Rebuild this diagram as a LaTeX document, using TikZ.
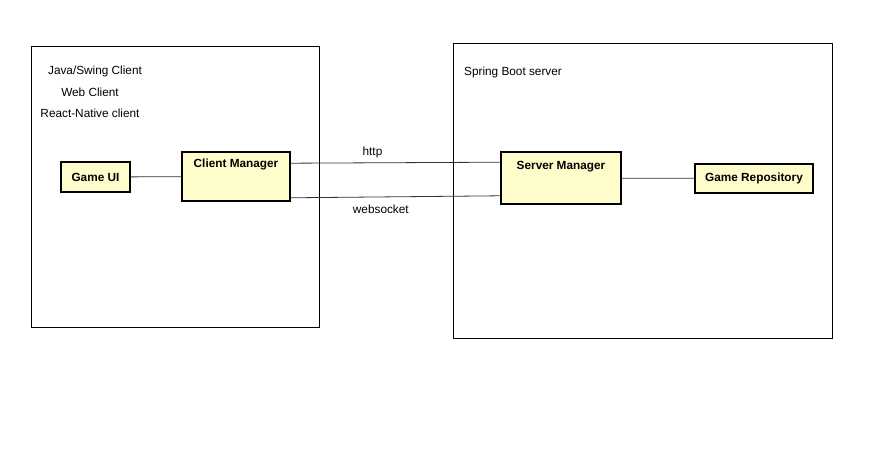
\documentclass[tikz,border=0pt]{standalone}
\usepackage{fontspec}
\setmainfont{Liberation Sans}
\usepackage{tikz}

\begin{document}
\begin{tikzpicture}[x=1pt, y=-1pt,
        font=\fontsize{11.8}{14}\selectfont,
        comp/.style={draw, line width=1.6pt, fill=yellow!20, inner sep=0pt, font=\fontsize{11.8}{14}\selectfont\bfseries},
        link/.style={black!80, line width=0.8pt}]
        \useasboundingbox (0, 0) rectangle (886, 449);
        % client and server frames
        \draw[line width=0.8pt] (31, 46) rectangle (319, 327);
        \draw[line width=0.8pt] (453, 43) rectangle (832, 338);
        \node (java) at (95, 71.5) {Java/Swing Client};
        \node (web) at (90, 92.5) {Web Client};
        \node (react) at (90, 113.5) {React-Native client};
        \node (spring) at (513, 72.5) {Spring Boot server};
        % components
        \node[comp, minimum width=69pt, minimum height=30pt] (gui) at (95.5, 177) {Game UI};
        \node[comp, minimum width=108pt, minimum height=49pt,
            label={[anchor=north, yshift=-4pt, font=\fontsize{11.8}{14}\selectfont\bfseries]north:Client Manager}] (cm) at (236, 176.5) {};
        \node[comp, minimum width=120pt, minimum height=52pt,
            label={[anchor=north, yshift=-7pt, font=\fontsize{11.8}{14}\selectfont\bfseries]north:Server Manager}] (sm) at (561, 178) {};
        \node[comp, minimum width=118pt, minimum height=29pt] (repo) at (754, 178.5) {Game Repository};
        % connections
        \draw[link] (gui) -- (cm);
        \draw[link] (sm) -- (repo);
        \draw[link] ([yshift=-12pt]cm.north east) -- ([yshift=-11pt]sm.north west) node[pos=0.39, above=1pt, text=black] {http};
        \draw[link] ([yshift=4pt]cm.south east) -- ([yshift=9pt]sm.south west) node[pos=0.43, below=4pt, text=black] {websocket};
    \end{tikzpicture}
\end{document}
